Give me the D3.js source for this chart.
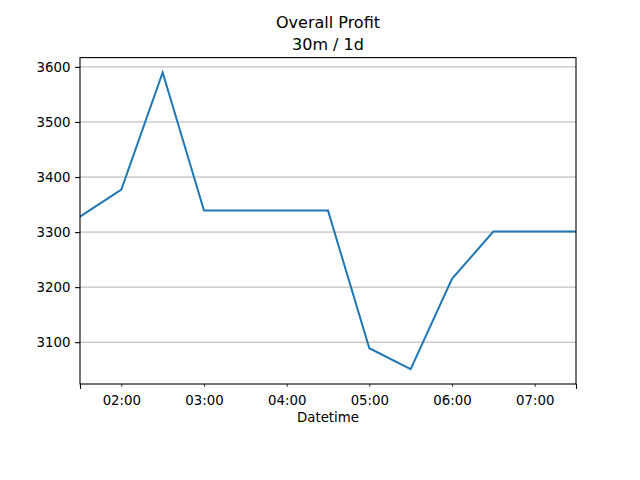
<!DOCTYPE html>
<html>
<head>
<meta charset="utf-8">
<script src="https://cdn.jsdelivr.net/npm/d3@7"></script>
<style>
  body { margin: 0; background: #fff; }
  text { font-family: 'DejaVu Sans', sans-serif; fill: #000; }
  .grid line { stroke: #b0b0b0; stroke-width: 1; }
</style>
</head>
<body>
<div id="chart"></div>
<script>
const times = ['01:30', '02:00', '02:30', '03:00', '03:30', '04:00', '04:30',
               '05:00', '05:30', '06:00', '06:30', '07:00', '07:30']
const profit = [3328, 3377, 3590, 3339, 3339, 3339, 3339,
                3089, 3051, 3215, 3301, 3301, 3301]
const yTicks = [3100, 3200, 3300, 3400, 3500, 3600]
const xTickLabels = ['02:00', '03:00', '04:00', '05:00', '06:00', '07:00']

const dms = {
    width: 640,
    height: 480,
    margin: { top: 57.6, right: 64, bottom: 96, left: 80 }
}
dms.contentWidth = dms.width - dms.margin.left - dms.margin.right
dms.contentHeight = dms.height - dms.margin.top - dms.margin.bottom

const parse = d3.timeParse('%H:%M')
const data = times.map((t, i) => ({ t: parse(t), v: profit[i] }))

const svg = d3.select('#chart').append('svg')
    .attr('width', dms.width)
    .attr('height', dms.height)

const content = svg.append('g')
    .attr('transform', `translate(${dms.margin.left},${dms.margin.top})`)

const xScale = d3.scaleTime()
    .domain(d3.extent(data, d => d.t))
    .range([0, dms.contentWidth])

// matplotlib style 5% margins on y
const [lo, hi] = d3.extent(data, d => d.v)
const pad = (hi - lo) * 0.05
const yScale = d3.scaleLinear()
    .domain([lo - pad, hi + pad])
    .range([dms.contentHeight, 0])

// horizontal grid
content.append('g')
    .attr('class', 'grid')
    .selectAll('line')
    .data(yTicks)
    .join('line')
    .attr('x1', 0)
    .attr('x2', dms.contentWidth)
    .attr('y1', d => yScale(d))
    .attr('y2', d => yScale(d))

const line = d3.line()
    .x(d => xScale(d.t))
    .y(d => yScale(d.v))

content.append('path')
    .datum(data)
    .attr('d', line)
    .attr('fill', 'none')
    .attr('stroke', '#1f77b4')
    .attr('stroke-width', 2)
    .attr('stroke-linejoin', 'miter')

// y axis
const yAxis = content.append('g')
    .call(d3.axisLeft(yScale).tickValues(yTicks).tickSize(4.9).tickPadding(4.7).tickFormat(d3.format('d')))
yAxis.select('.domain').remove()
yAxis.selectAll('line').attr('stroke', '#000').attr('stroke-width', 1.1)
yAxis.selectAll('text').style('font-size', '13.33px')

// x axis: hour labels on small minor ticks, major ticks at the ends
const xAxis = content.append('g')
    .attr('transform', `translate(0,${dms.contentHeight})`)
    .call(d3.axisBottom(xScale)
        .tickValues(xTickLabels.map(parse))
        .tickSize(2.8)
        .tickPadding(8.5)
        .tickFormat(d3.timeFormat('%H:%M')))
xAxis.select('.domain').remove()
xAxis.selectAll('line').attr('stroke', '#000').attr('stroke-width', 0.8)
xAxis.selectAll('text').style('font-size', '13.33px')

const ends = content.append('g')
    .attr('transform', `translate(0,${dms.contentHeight})`)
    .call(d3.axisBottom(xScale).tickValues(xScale.domain()).tickSize(4.9).tickFormat(''))
ends.select('.domain').remove()
ends.selectAll('line').attr('stroke', '#000').attr('stroke-width', 1.1)

// frame
content.append('rect')
    .attr('width', dms.contentWidth)
    .attr('height', dms.contentHeight)
    .attr('fill', 'none')
    .attr('stroke', '#000')
    .attr('stroke-width', 1.1)

content.append('text')
    .attr('x', dms.contentWidth / 2)
    .attr('y', dms.contentHeight + 38.5)
    .attr('text-anchor', 'middle')
    .style('font-size', '13.33px')
    .text('Datetime')

svg.append('text')
    .attr('x', dms.margin.left + dms.contentWidth / 2)
    .attr('y', 27.5)
    .attr('text-anchor', 'middle')
    .style('font-size', '16px')
    .text('Overall Profit')

svg.append('text')
    .attr('x', dms.margin.left + dms.contentWidth / 2)
    .attr('y', 50)
    .attr('text-anchor', 'middle')
    .style('font-size', '16px')
    .text('30m / 1d')
</script>
</body>
</html>
